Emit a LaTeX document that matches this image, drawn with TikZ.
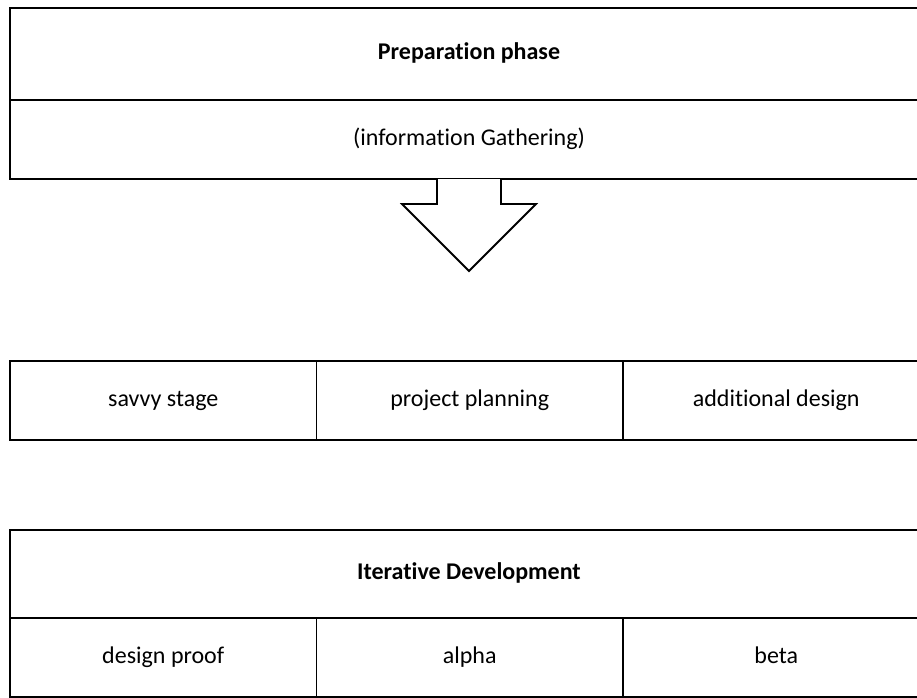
\documentclass[tikz,border=0pt]{standalone}
\usepackage{fontspec}
\setmainfont{Carlito}[Ligatures=NoCommon]
\usetikzlibrary{positioning}

\begin{document}
\begin{tikzpicture}[
    x=1pt, y=-1pt,
    every node/.style={draw, line width=1.8pt, inner sep=0pt, outer sep=0pt, anchor=north west,
        text height=1.15em, text depth=0pt, font=\fontsize{24}{29}\selectfont},
    headrow/.style={minimum width=918pt, font=\fontsize{24}{29}\selectfont\bfseries},
    subrow/.style={minimum width=918pt, minimum height=79pt},
    cell/.style={minimum width=306.5pt, minimum height=79pt}
]
\useasboundingbox (0,0) rectangle (917,697);
% preparation phase
\node[headrow, minimum height=92pt] (prep) at (10,8) {Preparation phase};
\node[subrow, below=0pt of prep] (gather) {(information Gathering)};
% arrow down
\draw[line width=1.8pt, fill=white] ([xshift=-32pt]gather.south) -- ++(0,25) -- ++(-35,0)
    -- ++(67,67) -- ++(67,-67) -- ++(-35,0) -- ++(0,-25);
% middle row
\node[cell] (savvy) at (10,361) {savvy stage};
\node[cell, right=0pt of savvy] (planning) {project planning};
\node[cell, right=0pt of planning] (design) {additional design};
% iterative development
\node[headrow, minimum height=88pt] (iter) at (10,530) {Iterative Development};
\node[cell, below=0pt of iter.south west, anchor=north west] (proof) {design proof};
\node[cell, right=0pt of proof] (alpha) {alpha};
\node[cell, right=0pt of alpha] (beta) {beta};
\end{tikzpicture}
\end{document}
